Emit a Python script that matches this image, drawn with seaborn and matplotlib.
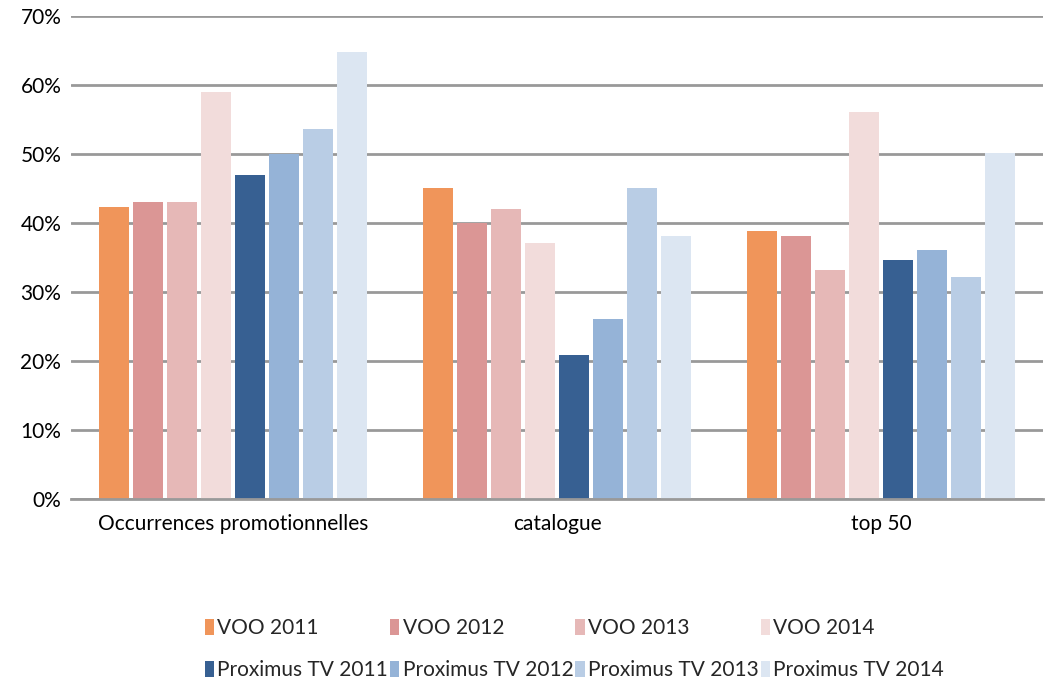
import matplotlib
matplotlib.use("Agg")
import matplotlib.pyplot as plt
from matplotlib.ticker import PercentFormatter
import pandas as pd
import seaborn as sns

categories = ["Occurrences promotionnelles", "catalogue", "top 50"]
series = ["VOO 2011", "VOO 2012", "VOO 2013", "VOO 2014",
          "Proximus TV 2011", "Proximus TV 2012", "Proximus TV 2013", "Proximus TV 2014"]

voo_2011 = [0.423, 0.451, 0.388]
voo_2012 = [0.430, 0.399, 0.381]
voo_2013 = [0.430, 0.420, 0.332]
voo_2014 = [0.589, 0.371, 0.560]
prox_2011 = [0.469, 0.209, 0.346]
prox_2012 = [0.500, 0.261, 0.361]
prox_2013 = [0.536, 0.451, 0.322]
prox_2014 = [0.648, 0.381, 0.501]

colors = ["#F0955A", "#DB9695", "#E6B8B7", "#F2DCDB",
          "#376092", "#95B3D7", "#B9CDE5", "#DCE6F2"]

values = [voo_2011, voo_2012, voo_2013, voo_2014,
          prox_2011, prox_2012, prox_2013, prox_2014]
rows = []
for name, vals in zip(series, values):
    for cat, v in zip(categories, vals):
        rows.append({"categorie": cat, "serie": name, "part": v})
df = pd.DataFrame(rows)

sns.set_style("white")
plt.rcParams["font.family"] = ["Lato", "DejaVu Sans"]

fig = plt.figure(figsize=(10.45, 6.79), dpi=100)
ax = fig.add_axes([0.068, 0.265, 0.93, 0.712])

sns.barplot(data=df, x="categorie", y="part", hue="serie",
            order=categories, hue_order=series, palette=colors,
            saturation=1, width=0.84, gap=0.14, linewidth=0,
            ax=ax, legend=True)

ax.set_ylim(0, 0.70)
ax.set_yticks([i / 10 for i in range(8)])
ax.yaxis.set_major_formatter(PercentFormatter(1.0, decimals=0))
ax.yaxis.grid(True, color="#999999", lw=2)
ax.set_axisbelow(True)
for s in ["top", "right", "left"]:
    ax.spines[s].set_visible(False)
ax.spines["bottom"].set_color("#999999")
ax.spines["bottom"].set_linewidth(2)
ax.tick_params(axis="y", length=0, labelsize=15, colors="black", pad=7)
ax.tick_params(axis="x", length=0, labelsize=15, colors="black", pad=11)
ax.set_xlabel("")
ax.set_ylabel("")

# legend, row-major order (VOO on top row, Proximus below)
handles, labels = ax.get_legend_handles_labels()
ax.get_legend().remove()
order = [0, 4, 1, 5, 2, 6, 3, 7]
fig.legend([handles[i] for i in order], [labels[i] for i in order],
           loc="lower left", bbox_to_anchor=(0.178, -0.029), ncol=4,
           frameon=False, fontsize=15, handlelength=0.45, handleheight=0.8,
           handletextpad=0.15, columnspacing=0.1, labelspacing=1.05)

fig.savefig("out.png", dpi=100)
